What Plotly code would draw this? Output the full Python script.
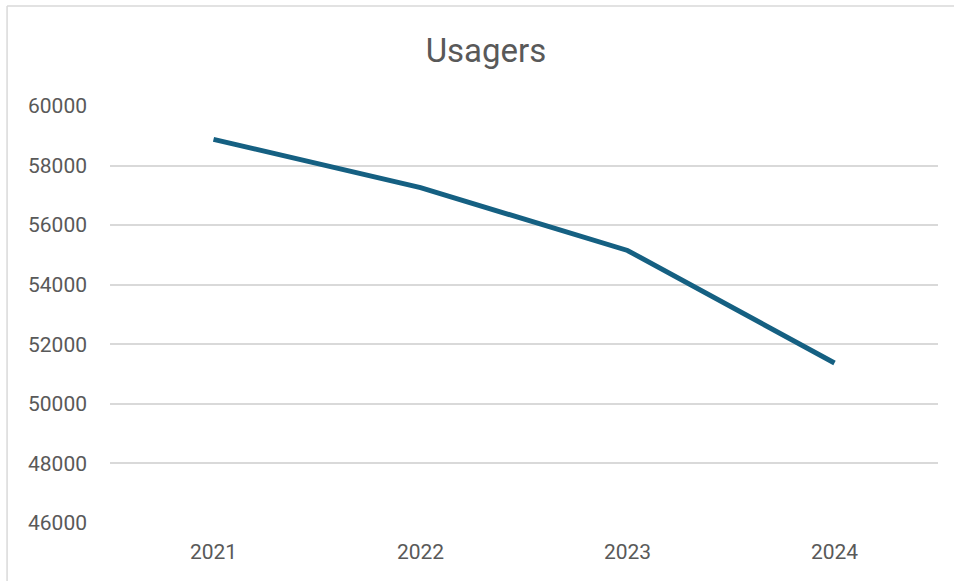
import plotly.graph_objects as go

years = ["2021", "2022", "2023", "2024"]
usagers = [58880, 57260, 55150, 51370]
y_ticks = [46000, 48000, 50000, 52000, 54000, 56000, 58000, 60000]

fig = go.Figure()
fig.add_trace(go.Scatter(
    x=years, y=usagers, mode="lines",
    line=dict(color="#156082", width=5),
    hoverinfo="x+y", showlegend=False,
))

font_fam = "Roboto, 'Open Sans', sans-serif"
pl, pr, pt, pb = 110, 938.5, 106, 522.7
fig.update_layout(
    width=954, height=581,
    margin=dict(l=pl, r=954 - pr, t=pt, b=581 - pb),
    paper_bgcolor="white", plot_bgcolor="white",
    title=dict(text="Usagers", x=486/954, xanchor="center", xref="container",
               y=1 - 50/581, yanchor="middle", yref="container",
               font=dict(family=font_fam, size=33, color="#595959")),
    font=dict(family=font_fam, color="#595959"),
    xaxis=dict(type="category", range=[-0.5, 3.5], showgrid=False, zeroline=False,
               showline=False, ticks="", tickfont=dict(size=21, color="#595959"),
               ticklabelstandoff=14),
    yaxis=dict(range=[46000, 60000], tickvals=y_ticks, ticktext=[str(v) for v in y_ticks],
               showgrid=True, gridcolor="#d9d9d9", gridwidth=1.5, zeroline=False,
               showline=False, ticks="", tickfont=dict(size=21, color="#595959"),
               ticklabelstandoff=22),
    shapes=[
        dict(type="line", xref="paper", yref="paper",
             x0=(7 - pl) / (pr - pl), x1=1.2, y0=(pb - 6) / (pb - pt), y1=(pb - 6) / (pb - pt),
             line=dict(color="#d9d9d9", width=1.5)),
        dict(type="line", xref="paper", yref="paper",
             x0=(7 - pl) / (pr - pl), x1=(7 - pl) / (pr - pl), y0=-0.3, y1=(pb - 6) / (pb - pt),
             line=dict(color="#d9d9d9", width=1.5)),
    ],
)

fig.write_html("out.html", config={"displayModeBar": False},
               post_script="document.body.style.margin='0';")
